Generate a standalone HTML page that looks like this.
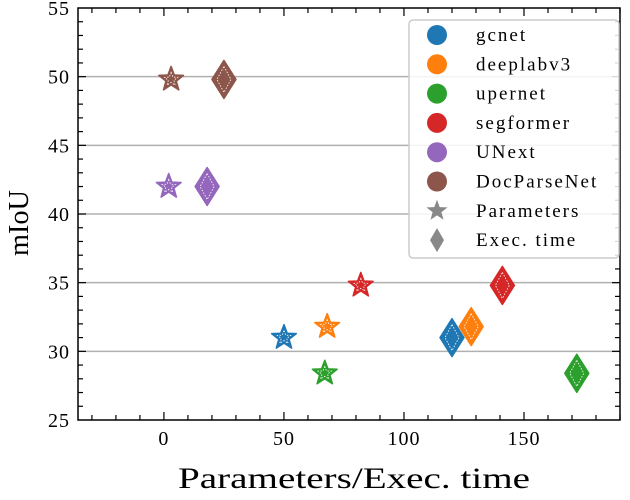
<!DOCTYPE html>
<html><head><meta charset="utf-8"><style>body{margin:0;background:#fff}svg{display:block}text{font-family:"Liberation Serif",serif;fill:#000}</style></head>
<body>
<svg id="c" width="630" height="500"></svg>
<script>
const models=["gcnet","deeplabv3","upernet","segformer","UNext","DocParseNet"];
const colors=["#1f77b4","#ff7f0e","#2ca02c","#d62728","#9467bd","#8c564b"];
const params=[50,68,67,82,2,3];
const execTime=[120,128,172,141,18,25];
const miou=[31,31.8,28.4,34.8,42,49.8];
const xTicks=[0,50,100,150];
const yTicks=[25,30,35,40,45,50,55];
const L=78,R=620,T=8,B=420,xmin=-35.8,xmax=190,ymin=25,ymax=55;
const X=v=>L+(v-xmin)/(xmax-xmin)*(R-L);
const Y=v=>B-(v-ymin)/(ymax-ymin)*(B-T);
const svg=document.getElementById('c');const NS='http://www.w3.org/2000/svg';
function el(t,a,p){const e=document.createElementNS(NS,t);for(const k in a)e.setAttribute(k,a[k]);(p||svg).appendChild(e);return e;}
yTicks.forEach(v=>{if(v>ymin&&v<ymax){const g=el('line',{x1:L,x2:R,y1:Y(v),y2:Y(v),stroke:'#b0b0b0','stroke-width':1.5});

}});
function star(cx,cy,r){let p=[];for(let i=0;i<10;i++){const a=-Math.PI/2+i*Math.PI/5,rr=i%2?r*0.42:r;p.push((cx+rr*Math.cos(a)).toFixed(1)+','+(cy+rr*Math.sin(a)).toFixed(1));}return p.join(' ');}
function dia(cx,cy,w,h){return `${cx},${cy-h} ${cx+w},${cy} ${cx},${cy+h} ${cx-w},${cy}`;}
models.forEach((m,i)=>{
 const s=el('polygon',{points:star(X(params[i]),Y(miou[i]),13),fill:colors[i],stroke:colors[i],'stroke-width':1.5,'stroke-linejoin':'round'});
 
 
 el('polygon',{points:star(X(params[i]),Y(miou[i]),7),fill:'none',stroke:'#fff','stroke-width':0.8,'stroke-dasharray':'1.5,1.5'});
 const d=el('polygon',{points:dia(X(execTime[i]),Y(miou[i]),12,19),fill:colors[i],stroke:colors[i],'stroke-width':1.5,'stroke-linejoin':'round'});
 
 
 el('polygon',{points:dia(X(execTime[i]),Y(miou[i]),7,13),fill:'none',stroke:'#fff','stroke-width':0.8,'stroke-dasharray':'1.5,1.5'});
});
const f=el('rect',{x:L,y:T,width:R-L,height:B-T,fill:'none',stroke:'#000','stroke-width':1.5});


for(let v=-30;v<=190;v+=10){const x=X(v);const big=v%50===0;const h=big?8:5;
 el('line',{x1:x,x2:x,y1:B,y2:B-h,stroke:'#000','stroke-width':1.2});el('line',{x1:x,x2:x,y1:T,y2:T+h,stroke:'#000','stroke-width':1.2});}
for(let v=26;v<55;v++){const y=Y(v);const big=v%5===0;const h=big?8:5;
 el('line',{x1:L,x2:L+h,y1:y,y2:y,stroke:'#000','stroke-width':1.2});el('line',{x1:R,x2:R-h,y1:y,y2:y,stroke:'#000','stroke-width':1.2});}
xTicks.forEach(v=>{const t=el('text',{x:X(v),y:B+25,'text-anchor':'middle','font-size':20,'letter-spacing':1});t.textContent=v;

});
yTicks.forEach(v=>{const t=el('text',{x:L-8,y:Y(v)+7,'text-anchor':'end','font-size':20,'letter-spacing':1});t.textContent=v;

});
const xt=el('text',{x:178,y:488,'font-size':30,textLength:352,lengthAdjust:'spacingAndGlyphs'});xt.textContent='Parameters/Exec. time';


const yt=el('text',{x:0,y:0,'font-size':29,textLength:66,lengthAdjust:'spacingAndGlyphs',transform:`translate(28,256) rotate(-90)`});yt.textContent='mIoU';


const lg=el('rect',{x:409,y:20,width:210,height:238,rx:4,fill:'#fff','fill-opacity':0.85,stroke:'#ccc','stroke-width':1.5});


const labels=models.concat(['Parameters','Exec. time']);
labels.forEach((lab,i)=>{const y=35+i*29.3;const cx=437;
 if(i<6)el('circle',{cx:cx,cy:y,r:10,fill:colors[i]});
 else if(i===6)el('polygon',{points:star(cx,y,11),fill:'#888'});
 else el('polygon',{points:dia(cx,y,7,12),fill:'#888'});
 const t=el('text',{x:476,y:y+6,'font-size':19,'letter-spacing':2});t.textContent=lab;
 
 
});
</script>
</body></html>
